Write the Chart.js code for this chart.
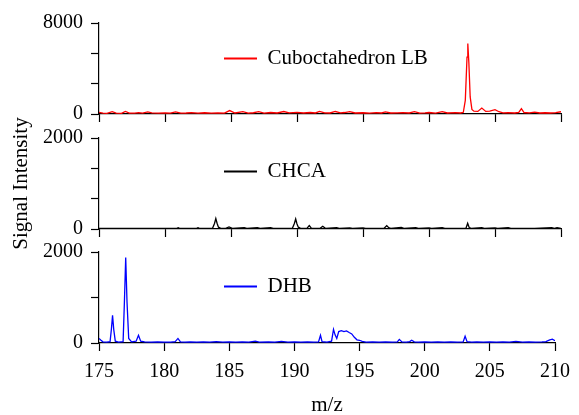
<!DOCTYPE html>
<html>
<head>
<meta charset="utf-8">
<script src="https://cdn.jsdelivr.net/npm/chart.js@4"></script>
<style>
html, body { margin: 0; padding: 0; background: #fff; }
#wrap { position: relative; width: 579px; height: 415px; }
#wrap canvas { position: absolute; left: 0; top: 0; }
</style>
</head>
<body>
<div id="wrap">
  <canvas id="chartTop" width="579" height="415"></canvas>
  <canvas id="chartMid" width="579" height="415"></canvas>
  <canvas id="chartBot" width="579" height="415"></canvas>
</div>
<script>
// three stacked spectra sharing the m/z axis

const mzTicks = [175, 180, 185, 190, 195, 200, 205, 210]
const topTicks = [0, 2666.7, 5333.3, 8000]
const topLabels = [0, 8000]
const midTicks = [0, 666.7, 1333.3, 2000]
const midLabels = [0, 2000]
const botTicks = [0, 1000, 2000]
const botLabels = [0, 2000]

// Cuboctahedron LB (red)
const cuboMz = [175.0, 175.3, 175.6, 176.0, 176.3, 176.7, 177.0, 177.3, 177.7, 178.0, 178.3, 178.7, 179.0, 179.5,
  180.0, 180.4, 180.8, 181.2, 181.6, 182.0, 182.5, 183.0, 183.5, 184.0, 184.5, 184.9, 185.3, 185.9, 186.3, 186.7,
  187.1, 187.5, 188.0, 188.5, 189.0, 189.4, 190.0, 190.5, 191.0, 191.4, 191.7, 192.1, 192.5, 192.9, 193.3, 193.6,
  194.0, 194.4, 195.0, 195.5, 196.0, 196.4, 196.7, 197.1, 197.6, 198.0, 198.5, 198.9, 199.3, 199.7, 200.0, 200.5,
  201.0, 201.4, 202.0, 202.4, 202.6, 202.75, 202.88, 202.94, 203.02, 203.12, 203.25, 203.4, 203.7, 204.0, 204.3,
  204.6, 205.0, 205.3, 205.6, 206.0, 206.5, 206.8, 207.0, 207.2, 207.6, 208.0, 208.4, 208.8, 209.2, 209.6, 210.0]
const cuboSignal = [150, 70, 60, 200, 70, 60, 220, 80, 70, 120, 70, 180, 90, 70,
  100, 70, 190, 80, 90, 120, 70, 110, 80, 100, 70, 300, 90, 210, 80, 110,
  200, 80, 130, 90, 220, 100, 150, 90, 130, 90, 230, 100, 90, 220, 100, 130,
  200, 90, 110, 80, 120, 90, 190, 90, 100, 120, 90, 200, 80, 100, 130, 80,
  200, 90, 120, 90, 150, 1200, 5000, 6200, 4500, 1500, 400, 250, 230, 520, 230,
  250, 380, 200, 100, 120, 90, 150, 480, 130, 100, 170, 90, 110, 90, 120, 200]

// CHCA (black)
const chcaMz = [175.0, 176.0, 177.0, 178.0, 179.0, 180.0, 180.9, 181.0, 181.1, 182.4, 182.5, 182.6, 183.6, 183.75,
  183.85, 183.95, 184.05, 184.2, 184.6, 184.85, 185.1, 186.0, 186.2, 187.0, 187.2, 188.0, 188.2, 189.0, 189.65,
  189.8, 189.9, 190.0, 190.1, 190.25, 190.75, 190.93, 191.1, 191.75, 191.95, 192.15, 193.0, 193.2, 194.0, 194.2,
  195.0, 195.2, 196.6, 196.8, 196.95, 197.1, 197.9, 198.1, 199.0, 199.2, 200.0, 200.2, 201.0, 201.2, 202.8,
  202.93, 203.05, 203.2, 204.0, 204.2, 205.0, 205.2, 206.0, 206.2, 207.0, 208.0, 209.3, 209.5, 209.7, 210.0]
const chcaSignal = [15, 15, 15, 15, 15, 15, 15, 30, 15, 15, 30, 15, 15, 120,
  230, 120, 40, 20, 15, 45, 15, 30, 15, 30, 15, 30, 15, 15, 15,
  120, 220, 110, 40, 20, 15, 75, 15, 15, 60, 15, 30, 15, 25, 15,
  25, 15, 15, 75, 30, 15, 35, 15, 30, 15, 25, 15, 30, 15, 15,
  125, 30, 15, 30, 15, 25, 15, 30, 15, 15, 15, 30, 15, 30, 15]

// DHB (blue)
const dhbMz = [175.0, 175.15, 175.3, 175.6, 175.85, 175.95, 176.04, 176.13, 176.25, 176.5, 176.85, 176.95, 177.05,
  177.15, 177.28, 177.5, 177.85, 178.03, 178.2, 178.5, 179.0, 179.5, 180.0, 180.5, 180.85, 181.06, 181.25, 181.6,
  182.0, 182.5, 183.0, 183.5, 184.0, 184.5, 185.0, 185.5, 186.0, 186.5, 187.0, 187.3, 188.0, 188.5, 189.0, 189.5,
  190.0, 190.5, 191.0, 191.5, 191.85, 192.0, 192.12, 192.5, 192.85, 193.0, 193.12, 193.25, 193.4, 193.6, 193.8,
  194.0, 194.2, 194.4, 194.6, 194.8, 195.0, 195.2, 195.5, 196.0, 196.5, 197.0, 197.5, 197.9, 198.05, 198.25,
  198.6, 198.85, 199.0, 199.2, 199.5, 200.0, 200.5, 201.0, 201.5, 202.0, 202.5, 202.95, 203.1, 203.25, 203.6,
  204.0, 204.5, 205.0, 205.5, 206.0, 206.5, 207.0, 207.5, 208.0, 208.5, 209.0, 209.3, 209.6, 209.8, 210.0]
const dhbSignal = [100, 60, 25, 20, 30, 300, 610, 300, 40, 20, 30, 900, 1880,
  900, 100, 25, 40, 170, 40, 25, 20, 25, 20, 20, 30, 100, 25, 20,
  25, 20, 25, 20, 30, 20, 25, 20, 25, 20, 40, 20, 25, 20, 35, 20,
  25, 20, 25, 20, 25, 170, 30, 20, 40, 300, 180, 100, 250, 270, 250,
  265, 230, 200, 125, 70, 60, 35, 20, 25, 20, 25, 20, 25, 80, 25,
  20, 30, 60, 25, 20, 25, 20, 25, 20, 25, 20, 25, 150, 30, 20,
  25, 20, 25, 20, 25, 20, 35, 20, 25, 20, 25, 30, 70, 85, 50]

Chart.defaults.font.family = "'Liberation Serif', 'Times New Roman', serif"
Chart.defaults.font.size = 20
Chart.defaults.color = '#000'

// put the legend where it sits in the figure, inside the plot
const placeLegend = {
  id: 'placeLegend',
  afterLayout(chart, args, opts) {
    const lg = chart.legend
    if (!lg) return
    lg.left = opts.x
    lg.top = opts.y
    lg.right = opts.x + 260
    lg.bottom = opts.y + 30
  }
}

function panel(id, p) {
  return new Chart(document.getElementById(id), {
    type: 'line',
    data: {
      datasets: [{
        label: p.label,
        data: p.mz.map((x, i) => ({ x: x, y: p.signal[i] })),
        borderColor: p.color,
        backgroundColor: p.color,
        pointBorderColor: p.color,
        pointBorderWidth: 2,
        pointRadius: 0,
        borderWidth: 1.3,
        tension: 0,
        fill: false
      }]
    },
    options: {
      responsive: false,
      animation: false,
      events: [],
      layout: { padding: { left: 0, right: 18, top: p.top, bottom: p.bottomPad } },
      plugins: {
        legend: {
          position: 'chartArea',
          align: 'start',
          labels: { usePointStyle: true, pointStyle: 'line', pointStyleWidth: 33, padding: 0, color: '#000', font: { size: 21 } }
        },
        tooltip: { enabled: false },
        placeLegend: { x: 224, y: p.legendY }
      },
      scales: {
        x: {
          type: 'linear',
          min: 175,
          max: 210,
          afterBuildTicks: s => { s.ticks = mzTicks.map(v => ({ value: v })) },
          afterFit: s => { s.height = p.xHeight },
          ticks: { display: p.showX, padding: 9, maxRotation: 0 },
          grid: { drawOnChartArea: false, tickLength: 8, tickColor: '#000', tickWidth: 1.2 },
          border: { color: '#000', width: 1.2 },
          title: { display: p.showX, text: 'm/z', font: { size: 21 }, padding: { top: 0, bottom: -3 } }
        },
        y: {
          min: 0,
          max: p.max,
          afterBuildTicks: s => { s.ticks = p.ticks.map(v => ({ value: v })) },
          afterFit: s => { s.width = 99 },
          ticks: { padding: 8, callback: v => p.labels.includes(v) ? String(v) : '' },
          grid: { drawOnChartArea: false, tickLength: 8, tickColor: '#000', tickWidth: 1.2 },
          border: { color: '#000', width: 1.2 },
          title: { display: p.yTitle, text: 'Signal Intensity', font: { size: 21 }, padding: { top: 9, bottom: 0 } }
        }
      }
    },
    plugins: [placeLegend]
  })
}

panel('chartTop', {
  label: 'Cuboctahedron LB', mz: cuboMz, signal: cuboSignal, color: '#ff0000',
  max: 8000, ticks: topTicks, labels: topLabels,
  top: 23, bottomPad: 291, xHeight: 10, showX: false, yTitle: false, legendY: 48
})
panel('chartMid', {
  label: 'CHCA', mz: chcaMz, signal: chcaSignal, color: '#000000',
  max: 2000, ticks: midTicks, labels: midLabels,
  top: 138, bottomPad: 176, xHeight: 10, showX: false, yTitle: true, legendY: 161
})
panel('chartBot', {
  label: 'DHB', mz: dhbMz, signal: dhbSignal, color: '#0000ff',
  max: 2000, ticks: botTicks, labels: botLabels,
  top: 252, bottomPad: 0, xHeight: 72, showX: true, yTitle: false, legendY: 276
})
</script>
</body>
</html>
